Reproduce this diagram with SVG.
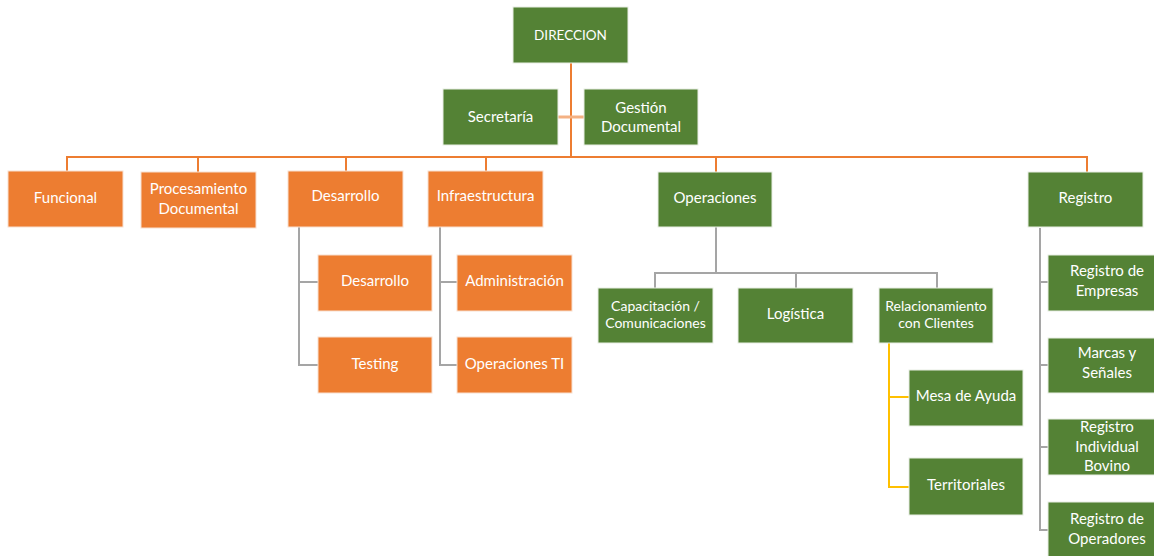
<svg xmlns="http://www.w3.org/2000/svg" width="1154" height="556" viewBox="0 0 1154 556">
<style>
.g{fill:#548235;stroke:#e8eee4;stroke-width:1}
.o{fill:#ED7D31;stroke:#f8e0d0;stroke-width:1}
text{font-family:Lato,"Open Sans","Liberation Sans",sans-serif;fill:#ffffff;text-anchor:middle;font-size:15px}
.s{font-size:14px}
.d{font-size:13.5px}
.lo{fill:none;stroke:#ED7D31;stroke-width:2}
.lg{fill:none;stroke:#A5A5A5;stroke-width:2}
.ly{fill:none;stroke:#FFC000;stroke-width:2}
</style>
<rect width="1154" height="556" fill="#ffffff"/>
<g id="connectors">
<path class="lo" d="M571 63V157M67 172V157H1087V172M198 157V172M346 157V171M486 157V171M716 157V172"/>
<path d="M558 117H584" fill="none" stroke="#F4B183" stroke-width="3"/>
<path class="lg" d="M299 227V365H318M299 282H318M440 227V365H457M440 282H457"/>
<path class="lg" d="M716 227V273M655 288V273H937V288M796 273V288"/>
<path class="ly" d="M889 343V487H909M889 397H909"/>
<path class="lg" d="M1040 228V530H1048M1040 282H1048M1040 365H1048M1040 447H1048" stroke-width="3" stroke="#B8B8B8"/>
</g>
<g id="direccion"><rect class="g" x="513" y="7" width="115" height="56"/><text class="d" x="570.5" y="40">DIRECCION</text></g>
<g id="secretaria"><rect class="g" x="443" y="89" width="115" height="56"/><text x="500.5" y="122">Secretaría</text></g>
<g id="gestion"><rect class="g" x="584" y="89" width="114" height="56"/><text x="641" y="113">Gestión</text><text x="641" y="132">Documental</text></g>
<g id="funcional"><rect class="o" x="8" y="171" width="115" height="56"/><text x="65.5" y="203">Funcional</text></g>
<g id="procesamiento"><rect class="o" x="141" y="172" width="115" height="56"/><text x="198.5" y="194">Procesamiento</text><text x="198.5" y="214">Documental</text></g>
<g id="desarrollo"><rect class="o" x="288" y="171" width="115" height="56"/><text x="345.5" y="201">Desarrollo</text></g>
<g id="infraestructura"><rect class="o" x="428" y="171" width="115" height="56"/><text x="485.5" y="201">Infraestructura</text></g>
<g id="operaciones"><rect class="g" x="658" y="172" width="114" height="55"/><text x="715" y="203">Operaciones</text></g>
<g id="registro"><rect class="g" x="1028" y="172" width="115" height="55"/><text x="1085.5" y="203">Registro</text></g>
<g id="desarrollo2"><rect class="o" x="318" y="255" width="114" height="56"/><text x="375" y="286">Desarrollo</text></g>
<g id="testing"><rect class="o" x="318" y="337" width="114" height="56"/><text x="375" y="369">Testing</text></g>
<g id="administracion"><rect class="o" x="457" y="255" width="115" height="56"/><text x="514.5" y="286">Administración</text></g>
<g id="operacionesti"><rect class="o" x="457" y="337" width="115" height="56"/><text x="514.5" y="369">Operaciones TI</text></g>
<g id="capacitacion"><rect class="g" x="598" y="288" width="115" height="55"/><text class="s" x="655.5" y="311">Capacitación /</text><text class="s" x="655.5" y="328">Comunicaciones</text></g>
<g id="logistica"><rect class="g" x="738" y="288" width="115" height="55"/><text x="795.5" y="319">Logística</text></g>
<g id="relacionamiento"><rect class="g" x="879" y="288" width="114" height="55"/><text class="s" x="936" y="311">Relacionamiento</text><text class="s" x="936" y="328">con Clientes</text></g>
<g id="mesa"><rect class="g" x="909" y="370" width="114" height="56"/><text x="966" y="401">Mesa de Ayuda</text></g>
<g id="territoriales"><rect class="g" x="909" y="458" width="114" height="57"/><text x="966" y="490">Territoriales</text></g>
<g id="empresas"><rect class="g" x="1048" y="255" width="115" height="56"/><text x="1107" y="276">Registro de</text><text x="1107" y="296">Empresas</text></g>
<g id="marcas"><rect class="g" x="1048" y="338" width="115" height="55"/><text x="1107" y="358">Marcas y</text><text x="1107" y="378">Señales</text></g>
<g id="bovino"><rect class="g" x="1048" y="419" width="115" height="56"/><text x="1107" y="432">Registro</text><text x="1107" y="452">Individual</text><text x="1107" y="471">Bovino</text></g>
<g id="operadores"><rect class="g" x="1048" y="502" width="115" height="56"/><text x="1107" y="524">Registro de</text><text x="1107" y="544">Operadores</text></g>
</svg>
